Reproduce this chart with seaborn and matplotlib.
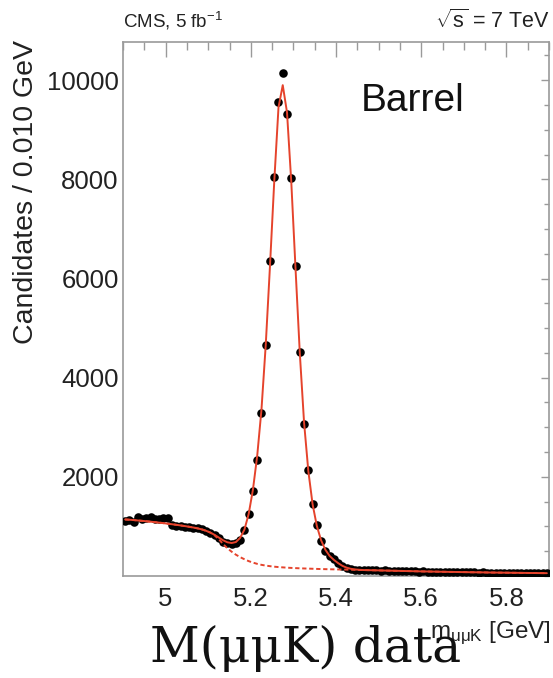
import numpy as np
import pandas as pd
import matplotlib
matplotlib.use("Agg")
import matplotlib.pyplot as plt
import seaborn as sns
from matplotlib.ticker import MultipleLocator, FixedLocator

# ---------------- data ----------------
bin_lo = 4.90
bin_width = 0.010
n_bins = 100

candidates = [
    1100, 1130, 1090, 1200, 1150, 1165, 1180, 1150, 1140, 1175,
    1160, 1030, 1010, 1005, 990, 985, 975, 965, 940, 905,
    865, 820, 760, 690, 660, 655, 665, 720, 920, 1260,
    1720, 2340, 3280, 4660, 6350, 8045, 9550, 10150, 9310, 8035,
    6260, 4525, 3065, 2130, 1455, 1025, 710, 510, 405, 335,
    270, 210, 160, 140, 130, 125, 118, 124, 112, 116,
    108, 111, 102, 106, 98, 101, 95, 99, 92, 90,
    96, 86, 89, 84, 80, 85, 78, 82, 76, 74,
    79, 71, 73, 68, 72, 66, 69, 63, 67, 62,
    64, 60, 63, 58, 61, 57, 59, 55, 58, 54,
]

fit_total = [
    1140, 1135, 1128, 1120, 1112, 1104, 1095, 1086, 1076, 1066,
    1055, 1044, 1032, 1020, 1007, 993, 978, 961, 940, 912,
    876, 830, 775, 720, 680, 665, 685, 770, 935, 1250,
    1740, 2420, 3350, 4650, 6250, 7950, 9450, 9900, 9350, 7950,
    6200, 4500, 3100, 2120, 1450, 1010, 720, 530, 405, 325,
    260, 205, 168, 145, 132, 125, 120, 118, 116, 114,
    112, 110, 108, 106, 104, 102, 100, 98, 96, 94,
    92, 91, 89, 88, 86, 85, 83, 82, 80, 79,
    78, 76, 75, 74, 73, 71, 70, 69, 68, 67,
    66, 65, 64, 63, 62, 61, 60, 59, 58, 57,
]

fit_background = [
    1140, 1135, 1128, 1120, 1112, 1104, 1095, 1086, 1076, 1066,
    1055, 1044, 1032, 1020, 1007, 993, 978, 961, 940, 912,
    876, 820, 740, 645, 560, 490, 430, 380, 338, 300,
    270, 245, 225, 210, 198, 188, 180, 174, 168, 163,
    159, 155, 152, 149, 146, 143, 140, 138, 136, 134,
    132, 130, 128, 126, 124, 122, 120, 118, 116, 114,
    112, 110, 108, 106, 104, 102, 100, 98, 96, 94,
    92, 91, 89, 88, 86, 85, 83, 82, 80, 79,
    78, 76, 75, 74, 73, 71, 70, 69, 68, 67,
    66, 65, 64, 63, 62, 61, 60, 59, 58, 57,
]

x_ticks = [5.0, 5.2, 5.4, 5.6, 5.8]
x_tick_labels = ["5", "5.2", "5.4", "5.6", "5.8"]
y_ticks = [2000, 4000, 6000, 8000, 10000]
y_tick_labels = ["2000", "4000", "6000", "8000", "10000"]

mass = bin_lo + bin_width * (np.arange(n_bins) + 0.5)
df = pd.DataFrame({
    "mass": mass,
    "candidates": candidates,
    "total": fit_total,
    "background": fit_background,
})

# ---------------- style ----------------
sns.set_theme(style="white")
plt.rcParams['font.family'] = ['Liberation Sans', 'DejaVu Sans']
plt.rcParams['mathtext.fontset'] = 'custom'
plt.rcParams['mathtext.rm'] = 'Liberation Sans'
plt.rcParams['mathtext.it'] = 'Liberation Sans'
plt.rcParams['mathtext.bf'] = 'Liberation Sans:bold'
plt.rcParams['mathtext.default'] = 'regular'

W, H = 553, 678
fig = plt.figure(figsize=(W / 100, H / 100), dpi=100)
left, right, top, bottom = 123, 549, 42, 576
ax = fig.add_axes([left / W, 1 - bottom / H, (right - left) / W, (bottom - top) / H])

red = "#e5432c"

sns.scatterplot(data=df, x="mass", y="candidates", color="black", s=38,
                linewidth=0, ax=ax, zorder=3)
sns.lineplot(data=df, x="mass", y="background", color=red, lw=1.4,
             linestyle=(0, (2.2, 1.4)), estimator=None, sort=False, ax=ax, zorder=4)
sns.lineplot(data=df, x="mass", y="total", color=red, lw=1.4,
             estimator=None, sort=False, ax=ax, zorder=5)

ax.set_xlim(4.9, 5.9)
ax.set_ylim(0, 10770)
ax.set_xlabel("")
ax.set_ylabel("")

ax.xaxis.set_major_locator(FixedLocator(x_ticks))
ax.set_xticklabels(x_tick_labels)
ax.xaxis.set_minor_locator(MultipleLocator(0.05))
ax.yaxis.set_major_locator(FixedLocator(y_ticks))
ax.set_yticklabels(y_tick_labels)
ax.yaxis.set_minor_locator(MultipleLocator(500))

frame_col = "#9a9a9a"
for sp in ax.spines.values():
    sp.set_color(frame_col)
    sp.set_linewidth(1.2)

ax.tick_params(which="both", direction="in", top=True, right=True,
               color=frame_col, width=1.0, labelcolor="#222222")
ax.tick_params(axis="x", which="major", length=11, pad=8, labelsize=18.5)
ax.tick_params(axis="x", which="minor", length=5.5)
ax.tick_params(axis="y", which="major", length=6, pad=3, labelsize=18.5)
ax.tick_params(axis="y", which="minor", length=3.5)

# texts
fig.text(left / W, 1 - 28 / H, r"CMS, 5 fb$^{-1}$", ha="left", va="baseline",
         fontsize=13.5, color="#222222")
fig.text(550 / W, 1 - 28 / H, r"$\sqrt{s}$ = 7 TeV", ha="right", va="baseline",
         fontsize=15.5, color="#222222")
ax.text(0.558, 0.89, "Barrel", transform=ax.transAxes, ha="left", va="center",
        fontsize=28, color="#111111")
fig.text(26 / W, 1 - 40 / H, "Candidates / 0.010 GeV", rotation=90,
         ha="center", va="top", fontsize=20.5, color="#222222")
fig.text(551 / W, 1 - 638 / H, r"$m_{\mu\mu K}$ [GeV]", ha="right",
         va="baseline", fontsize=17.5, color="#222222")
fig.text(150 / W, 1 - 662 / H, "M(μμK) data", ha="left", va="baseline",
         fontsize=35, family=["DejaVu Serif"], color="#111111", zorder=10)

fig.savefig("out.png", dpi=100)
